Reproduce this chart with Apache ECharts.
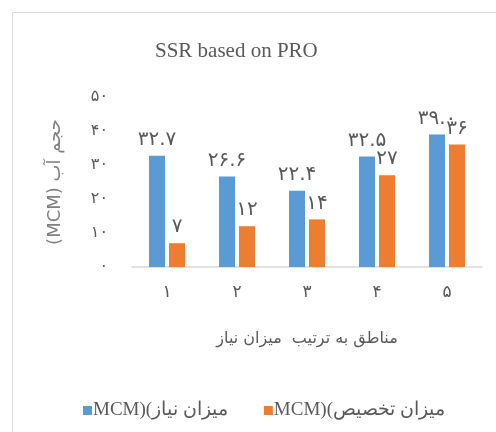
<!DOCTYPE html>
<html>
<head>
<meta charset="utf-8">
<script src="https://cdn.jsdelivr.net/npm/echarts@6/dist/echarts.min.js"></script>
<style>
  html, body { margin: 0; padding: 0; background: #fff; }
  #chart { width: 496px; height: 432px; }
</style>
</head>
<body>
<div id="chart"></div>
<script>
// data
const categories = [1, 2, 3, 4, 5]
const demand = [32.7, 26.6, 22.4, 32.5, 39.0]     // میزان نیاز
const allocation = [7, 12, 14, 27, 36]            // میزان تخصیص
const yTicks = [0, 10, 20, 30, 40, 50]
const seriesNames = ['MCM)(میزان نیاز', 'MCM)(میزان تخصیص']

const faDigits = '۰۱۲۳۴۵۶۷۸۹'
const toFa = s => String(s).replace(/[0-9]/g, d => faDigits[+d])

const grey = '#595959'
const chart = echarts.init(document.getElementById('chart'))

chart.setOption({
  animation: false,
  graphic: [{
    type: 'rect',
    shape: { x: 12.5, y: 12.5, width: 500, height: 440 },
    style: { fill: 'none', stroke: '#D9D9D9', lineWidth: 1 }
  }],
  title: {
    text: 'SSR based on PRO',
    left: 150,
    top: 36,
    textStyle: { fontFamily: 'Liberation Serif', fontSize: 21, fontWeight: 'normal', color: grey }
  },
  legend: {
    left: 78,
    top: 396,
    itemWidth: 9,
    itemHeight: 9,
    itemGap: 36,
    icon: 'rect',
    textStyle: { fontFamily: 'Liberation Serif', fontSize: 19, color: grey, padding: [0, 0, 0, -4] }
  },
  grid: { left: 132, right: 14, top: 97, bottom: 165 },
  xAxis: {
    type: 'category',
    data: categories,
    name: 'مناطق به ترتیب  میزان نیاز',
    nameLocation: 'middle',
    nameGap: 64,
    nameTextStyle: { fontFamily: 'DejaVu Sans', fontSize: 16, color: grey },
    axisLine: { lineStyle: { color: '#D9D9D9', width: 1.5 } },
    axisTick: { show: false },
    axisLabel: { formatter: v => toFa(v), fontSize: 17, color: grey, margin: 17, fontFamily: 'DejaVu Sans' }
  },
  yAxis: {
    type: 'value',
    min: yTicks[0],
    max: yTicks[yTicks.length - 1],
    interval: 10,
    name: '(MCM) حجم آب',
    nameLocation: 'middle',
    nameRotate: 90,
    nameGap: 68,
    nameTextStyle: { fontFamily: 'DejaVu Sans', fontSize: 18, color: '#7f7f7f' },
    axisLine: { show: false },
    axisTick: { show: false },
    splitLine: { show: false },
    axisLabel: { formatter: v => toFa(v), fontSize: 16, color: grey, margin: 24, fontFamily: 'DejaVu Sans' }
  },
  series: [
    {
      name: seriesNames[0],
      type: 'bar',
      data: demand,
      barWidth: 16,
      barGap: '25%',
      itemStyle: { color: '#5B9BD5' },
      label: {
        show: true, position: 'top', distance: 6,
        formatter: p => toFa(p.value.toFixed(1)),
        fontSize: 20, color: grey, fontFamily: 'DejaVu Sans'
      }
    },
    {
      name: seriesNames[1],
      type: 'bar',
      data: allocation,
      barWidth: 16,
      itemStyle: { color: '#ED7D31' },
      label: {
        show: true, position: 'top', distance: 6,
        formatter: p => toFa(p.value),
        fontSize: 20, color: grey, fontFamily: 'DejaVu Sans'
      }
    }
  ]
})
</script>
</body>
</html>
